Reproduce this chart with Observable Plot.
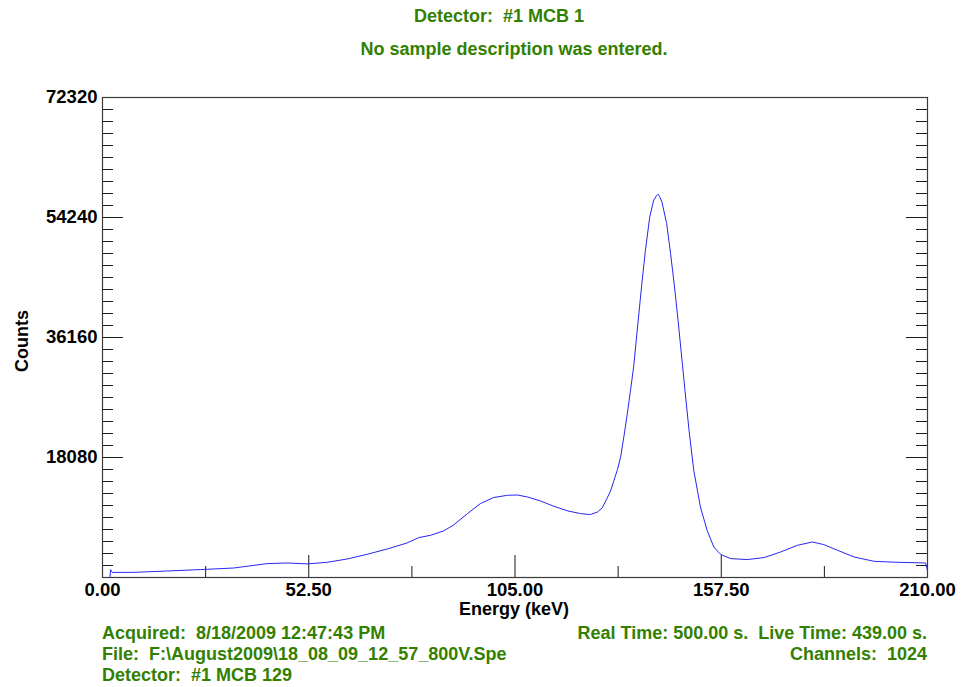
<!DOCTYPE html>
<html>
<head>
<meta charset="utf-8">
<script src="https://cdn.jsdelivr.net/npm/d3@7"></script>
<script src="https://cdn.jsdelivr.net/npm/@observablehq/plot@0.6"></script>
<style>
  body { margin: 0; background: #fff; }
  #wrap { position: relative; width: 971px; height: 687px; font-family: "Liberation Sans", Arial, Helvetica, sans-serif; font-weight: bold; }
  #header { height: 80px; }
  .t { position: absolute; white-space: pre; color: #338000; font-size: 18px; line-height: 18px; }
  .ax { position: absolute; white-space: pre; color: #000; font-size: 18px; line-height: 16px; }
  #chart svg { display: block; }
</style>
</head>
<body>
<div id="wrap">
  <div id="header"></div>
  <div id="chart"></div>
  <div class="t" style="left:199px;width:600px;text-align:center;top:7px;">Detector:  #1 MCB 1</div>
  <div class="t" style="left:214px;width:600px;text-align:center;top:40px;">No sample description was entered.</div>
  <div class="ax" style="left:214px;width:600px;text-align:center;top:601px;">Energy (keV)</div>
  <div class="ax" style="left:22px;top:341px;transform:translate(-50%,-50%) rotate(-90deg);">Counts</div>
  <div class="t" style="left:102px;top:624px;">Acquired:  8/18/2009 12:47:43 PM</div>
  <div class="t" style="left:102px;top:645px;">File:  F:\August2009\18_08_09_12_57_800V.Spe</div>
  <div class="t" style="left:102px;top:666px;">Detector:  #1 MCB 129</div>
  <div class="t" style="right:44px;top:624px;text-align:right;">Real Time: 500.00 s.  Live Time: 439.00 s.</div>
  <div class="t" style="right:44px;top:645px;text-align:right;">Channels:  1024</div>
</div>
<script>
// Spectrum (energy in keV, counts)
const energy = [0, 1.9, 2.05, 2.5, 8.0, 16.5, 24.9, 33.4, 41.9, 47.0, 52.1, 57.2, 62.3, 67.4, 72.5, 77.5, 80.5,
  83.5, 86.8, 89.3, 92.9, 96.2, 99.5, 103.1, 105.6, 108.2, 111.5, 114.9, 118.5, 121.7, 124.2, 126.0, 127.2,
  128.4, 129.3, 130.2, 131.1, 131.9, 132.7, 133.6, 134.4, 135.2, 136.2, 137.2, 138.2, 139.3, 140.3, 141.0,
  141.4, 141.8, 142.4, 143.6, 144.6, 145.6, 146.5, 147.6, 148.3, 149.3, 150.5, 152.2, 153.9, 155.6, 157.1,
  157.8, 159.9, 164.1, 168.4, 172.6, 176.9, 180.7, 183.6, 187.1, 191.3, 196.4, 202.4, 209.5, 209.8, 210];
const counts = [0, 0, 1190, 760, 780, 980, 1190, 1430, 2090, 2190, 2050, 2290, 2790, 3500, 4300, 5200, 6010,
  6360, 7010, 7870, 9630, 11140, 12040, 12390, 12430, 12130, 11530, 10730, 10020, 9630, 9480, 9870, 10500,
  11900, 13000, 14650, 16300, 18200, 21170, 24700, 28210, 31720, 37750, 43780, 49310, 54330, 56850, 57500,
  57750, 57400, 56590, 53330, 48810, 43780, 38760, 32230, 28000, 22180, 16150, 10620, 7110, 4600, 3600,
  3350, 2850, 2700, 3000, 3840, 4850, 5350, 4960, 4100, 3090, 2440, 2290, 2190, 1500, 1090];

const xTicks = [0, 52.5, 105, 157.5, 210];
const xMinorTicks = [26.25, 78.75, 131.25, 183.75];
const yTicks = [18080, 36160, 54240, 72320];
const yMajorTicks = [0, 18080, 36160, 54240, 72320];
const yMinorStep = 1808;

const data = energy.map((e, i) => ({energy: e, counts: counts[i]}));
const yMinorTicks = d3.range(0, 72320 + 1, yMinorStep).filter(v => v % 18080 !== 0);

const W = 971, H = 540, mL = 102, mR = 44, mT = 17, mB = 43;
const pw = W - mL - mR, ph = H - mT - mB;
const tickColor = "#1a1a1a";

const chart = Plot.plot({
  width: W, height: H,
  marginLeft: mL, marginRight: mR, marginTop: mT, marginBottom: mB,
  style: {fontFamily: '"Liberation Sans", Arial, Helvetica, sans-serif', fontSize: "18.5px", fontWeight: "bold", color: "#000", background: "#fff"},
  x: {domain: [0, 210]},
  y: {domain: [0, 72320]},
  marks: [
    Plot.tickY(yMinorTicks, {y: d => d, insetRight: pw - 11, stroke: tickColor}),
    Plot.tickY(yMajorTicks, {y: d => d, insetRight: pw - 21, stroke: tickColor}),
    Plot.tickY(yMinorTicks, {y: d => d, insetLeft: pw - 11, stroke: tickColor}),
    Plot.tickY(yMajorTicks, {y: d => d, insetLeft: pw - 21, stroke: tickColor}),
    Plot.tickX(xMinorTicks, {x: d => d, insetTop: ph - 11, stroke: tickColor}),
    Plot.tickX(xTicks, {x: d => d, insetTop: ph - 22, stroke: tickColor}),
    Plot.line(data, {x: "energy", y: "counts", stroke: "#2626f2", strokeWidth: 1}),
    Plot.frame({stroke: "#3a3a3a", strokeWidth: 1.2}),
    Plot.axisY(yTicks, {anchor: "left", tickSize: 0, tickPadding: 5, tickFormat: d => String(d), label: null}),
    Plot.axisX(xTicks, {anchor: "bottom", tickSize: 0, tickPadding: 5, tickFormat: d => d.toFixed(2), label: null})
  ]
});
document.getElementById("chart").appendChild(chart);
</script>
</body>
</html>
